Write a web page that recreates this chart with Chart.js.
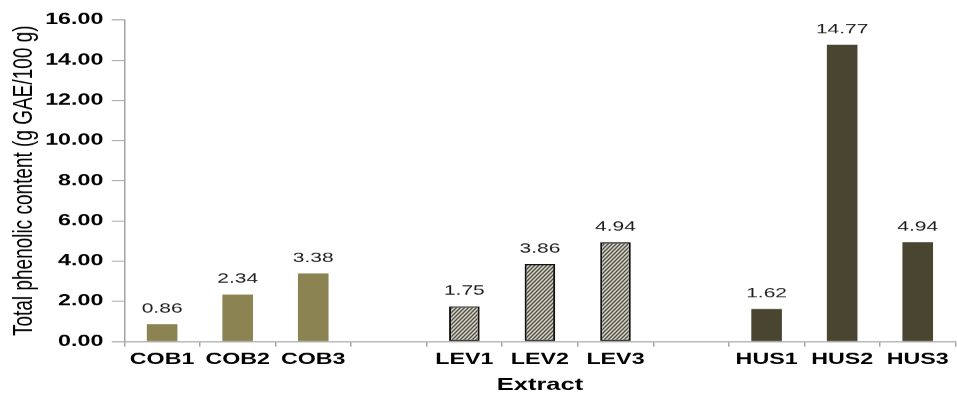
<!DOCTYPE html>
<html>
<head>
<meta charset="utf-8">
<script src="https://cdn.jsdelivr.net/npm/chart.js@4/dist/chart.umd.min.js"></script>
<style>
  html, body { margin: 0; padding: 0; background: #ffffff; overflow: hidden; }
  #wrap { width: 957px; height: 394px; overflow: hidden; }
  /* the chart is laid out narrow and widened, giving the broad lettering of the figure */
  #chart { display: block; transform: scaleX(1.5); transform-origin: 0 0; }
</style>
</head>
<body>
<div id="wrap"><canvas id="chart" width="638" height="394"></canvas></div>
<script>
// Total phenolic content per extract (g GAE/100 g)
const cobLabels = ['COB1', 'COB2', 'COB3'];
const levLabels = ['LEV1', 'LEV2', 'LEV3'];
const husLabels = ['HUS1', 'HUS2', 'HUS3'];
const cobValues = [0.86, 2.34, 3.38];
const levValues = [1.75, 3.86, 4.94];
const husValues = [1.62, 14.77, 4.94];
const yTickValues = [0, 2, 4, 6, 8, 10, 12, 14, 16];

const STRETCH = 1.5;
const cobColor = '#8C8352';
const husColor = '#4A4530';
const axisColor = '#A3A3A3';

// diagonal hatch for the LEV bars (one tile pixel = one screen pixel)
function makeHatch() {
  const tile = document.createElement('canvas');
  const s = 4;
  tile.width = s; tile.height = s;
  const c = tile.getContext('2d');
  c.fillStyle = '#ECE8D6';
  c.fillRect(0, 0, s, s);
  c.strokeStyle = '#3A3A34';
  c.lineWidth = 1.3;
  c.beginPath();
  c.moveTo(-1, s + 1); c.lineTo(s + 1, -1);
  c.moveTo(-1, 1); c.lineTo(1, -1);
  c.moveTo(s - 1, s + 1); c.lineTo(s + 1, s - 1);
  c.stroke();
  const ctx = document.getElementById('chart').getContext('2d');
  const pat = ctx.createPattern(tile, 'repeat');
  if (pat.setTransform) pat.setTransform(new DOMMatrix().scale(1 / STRETCH, 1));
  return pat;
}
const hatch = makeHatch();

// group the three extracts with an empty slot between groups
const labels = [...cobLabels, '', ...levLabels, '', ...husLabels];
const values = [...cobValues, null, ...levValues, null, ...husValues];
const fills = [
  ...cobValues.map(() => cobColor), 'rgba(0,0,0,0)',
  ...levValues.map(() => hatch), 'rgba(0,0,0,0)',
  ...husValues.map(() => husColor)
];
const borders = [
  ...cobValues.map(() => 0), 0,
  ...levValues.map(() => 1.4), 0,
  ...husValues.map(() => 0)
];

const valueLabels = {
  id: 'valueLabels',
  afterDatasetsDraw(chart) {
    const ctx = chart.ctx;
    const meta = chart.getDatasetMeta(0);
    ctx.save();
    ctx.font = '14px "Liberation Sans", Arial, sans-serif';
    ctx.fillStyle = '#1E1E1E';
    ctx.textAlign = 'center';
    ctx.textBaseline = 'alphabetic';
    meta.data.forEach((bar, i) => {
      const v = chart.data.datasets[0].data[i];
      if (v === null || v === undefined) return;
      ctx.fillText(v.toFixed(2), bar.x, bar.y - 11.5);
    });
    ctx.restore();
  }
};

new Chart(document.getElementById('chart'), {
  type: 'bar',
  data: {
    labels: labels,
    datasets: [{
      data: values,
      backgroundColor: fills,
      borderColor: '#111111',
      borderWidth: borders,
      borderSkipped: false,
      barPercentage: 0.405,
      categoryPercentage: 1.0
    }]
  },
  options: {
    responsive: false,
    devicePixelRatio: STRETCH,
    animation: false,
    events: [],
    layout: { padding: { top: 20, right: 1, bottom: 0, left: 0 } },
    plugins: {
      legend: { display: false },
      tooltip: { enabled: false },
      title: { display: false }
    },
    scales: {
      x: {
        afterFit(scale) { scale.height = 52.5; },
        grid: {
          display: true,
          offset: true,
          drawOnChartArea: false,
          drawTicks: true,
          tickLength: 5,
          color: axisColor,
          lineWidth: 1
        },
        border: { display: true, color: axisColor, width: 1 },
        ticks: {
          color: '#000000',
          padding: 4,
          maxRotation: 0,
          autoSkip: false,
          font: { family: '"Liberation Sans", Arial, sans-serif', size: 15.5, weight: 'bold', lineHeight: 1.2 }
        },
        title: {
          display: true,
          text: 'Extract',
          color: '#000000',
          padding: { top: 0, bottom: 0 },
          font: { family: '"Liberation Sans", Arial, sans-serif', size: 17, weight: 'bold', lineHeight: 1 }
        }
      },
      y: {
        min: 0,
        max: 16,
        afterFit(scale) { scale.width = 82.9; },
        afterBuildTicks(scale) { scale.ticks = yTickValues.map(v => ({ value: v })); },
        grid: {
          display: true,
          drawOnChartArea: false,
          drawTicks: true,
          tickLength: 8.4,
          color: axisColor,
          lineWidth: 1
        },
        border: { display: true, color: axisColor, width: 1 },
        ticks: {
          color: '#000000',
          padding: 5.6,
          callback: (v) => Number(v).toFixed(2),
          font: { family: '"Liberation Sans", Arial, sans-serif', size: 15.5, weight: 'bold' }
        },
        title: {
          display: true,
          text: 'Total phenolic content (g GAE/100 g)',
          color: '#000000',
          padding: { top: 6.8, bottom: 0 },
          font: { family: '"Liberation Sans", Arial, sans-serif', size: 19, weight: 'normal', lineHeight: 1 }
        }
      }
    }
  },
  plugins: [valueLabels]
});
</script>
</body>
</html>
